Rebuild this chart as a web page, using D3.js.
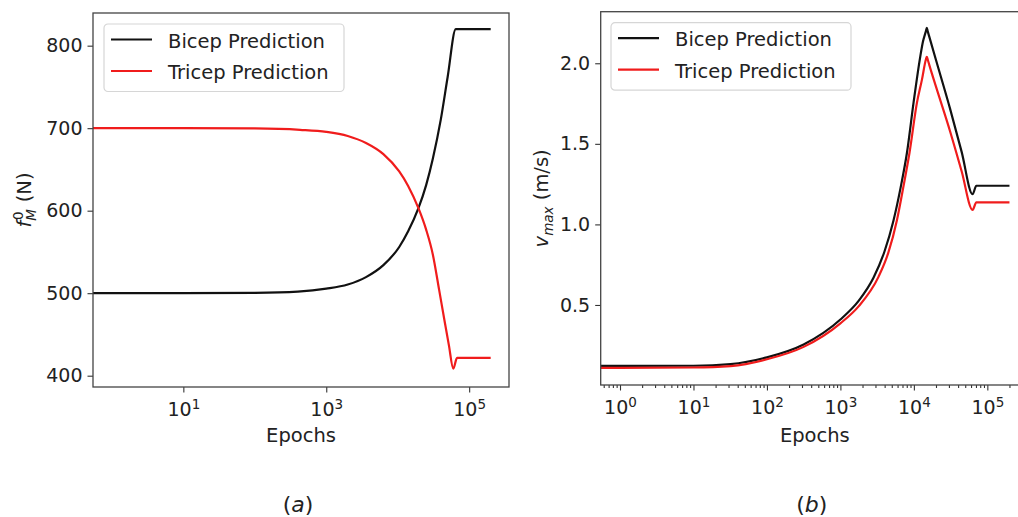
<!DOCTYPE html>
<html>
<head>
<meta charset="utf-8">
<script src="https://cdn.jsdelivr.net/npm/d3@7"></script>
<style>
  body { margin: 0; background: #fff; }
  svg text { font-family: "DejaVu Sans", sans-serif; fill: #222; }
</style>
</head>
<body>
<svg id="chart" width="1018" height="517"></svg>
<script>
// Panel (a): optimal muscle force f_M^0 (N) against epochs
const forceBicepEpochs = [0, 1, 10, 100, 400, 1000, 2000, 3600, 6300, 10500, 14000, 19500, 25000, 31000, 40000, 50000, 65000, 200000];
const forceBicep = [500, 500, 500, 500.5, 502, 505.5, 510.5, 519.5, 534, 556, 575, 603, 631, 663, 710, 762, 820, 820];
const forceTricepEpochs = [0, 1, 10, 100, 430, 1000, 2000, 3600, 6300, 10500, 14000, 19500, 25000, 31000, 38000, 44700, 52000, 60000, 67600, 200000];
const forceTricep = [700, 700, 700, 699.7, 698, 695.5, 690.5, 682, 668.5, 647.5, 630, 603, 577, 547, 504, 469, 437, 408.5, 421.5, 421.5];

// Panel (b): max contraction velocity v_max (m/s) against epochs
const velBicepEpochs = [0, 1, 10, 32, 100, 316, 1000, 1780, 2820, 3980, 5250, 6610, 8040, 9890, 12200, 13300, 14600, 15000, 15400, 16200, 20000, 31000, 44700, 63000, 70800, 200000];
const velBicep = [0.122, 0.122, 0.123, 0.133, 0.175, 0.255, 0.41, 0.527, 0.669, 0.832, 1.02, 1.23, 1.443, 1.754, 2.04, 2.135, 2.2, 2.22, 2.2, 2.165, 2.02, 1.72, 1.45, 1.187, 1.24, 1.24];
const velTricepEpochs = [0, 1, 10, 32, 100, 316, 1000, 1780, 3310, 4470, 5890, 7240, 8710, 11000, 12900, 14600, 15000, 15400, 16200, 20000, 31000, 44700, 63000, 70800, 200000];
const velTricep = [0.11, 0.11, 0.112, 0.121, 0.163, 0.24, 0.386, 0.493, 0.676, 0.822, 1.028, 1.24, 1.443, 1.754, 1.9, 2.025, 2.04, 2.025, 1.99, 1.855, 1.58, 1.33, 1.09, 1.137, 1.137];

// tick labels
const forceTicks = [400, 500, 600, 700, 800];
const velTicks = [0.5, 1.0, 1.5, 2.0];
const forceEpochTicks = [1e1, 1e3, 1e5];
const velEpochTicks = [1e0, 1e1, 1e2, 1e3, 1e4, 1e5];
const seriesNames = ["Bicep Prediction", "Tricep Prediction"];
const seriesColors = ["#111", "#f01c1c"];

const svg = d3.select("#chart");

drawPanel({
  id: "a",
  x: d3.scaleLog().domain([0.544, 3.61e5]).range([93, 509]),
  y: d3.scaleLinear().domain([386.3, 839.6]).range([387, 13]),
  yTicks: forceTicks,
  yFormat: d3.format("d"),
  xTicks: forceEpochTicks,
  minor: false,
  series: [
    {epochs: forceBicepEpochs, values: forceBicep},
    {epochs: forceTricepEpochs, values: forceTricep}
  ],
  legend: {x: 104, y: 24},
  yLabel: {x: 31, base: "f", sub: "M", sup: "0", unit: " (N)"},
  title: "a"
});

drawPanel({
  id: "b",
  x: d3.scaleLog().domain([0.546, 3.69e5]).range([600.7, 1029]),
  y: d3.scaleLinear().domain([0.0034, 2.32]).range([385, 11.7]),
  yTicks: velTicks,
  yFormat: d3.format(".1f"),
  xTicks: velEpochTicks,
  minor: true,
  series: [
    {epochs: velBicepEpochs, values: velBicep},
    {epochs: velTricepEpochs, values: velTricep}
  ],
  legend: {x: 611, y: 22.7},
  yLabel: {x: 548, base: "v", sub: "max", sup: null, unit: " (m/s)"},
  title: "b"
});

function drawPanel(p) {
  const x = p.x, y = p.y;
  const [x0, x1] = x.range();
  const [y1, y0] = y.range();
  const g = svg.append("g");

  // clip the lines to the plot area (epoch 0 runs off the left edge like matplotlib)
  g.append("clipPath").attr("id", "clip-" + p.id)
    .append("rect")
    .attr("x", x0).attr("y", y0)
    .attr("width", x1 - x0).attr("height", y1 - y0);

  const line = d3.line()
    .x(d => x(Math.max(d[0], 0.1)))
    .y(d => y(d[1]))
    .curve(d3.curveMonotoneX);

  g.append("g").attr("clip-path", "url(#clip-" + p.id + ")")
    .selectAll("path")
    .data(p.series)
    .enter().append("path")
    .attr("d", s => line(s.epochs.map((e, i) => [e, s.values[i]])))
    .attr("fill", "none")
    .attr("stroke", (s, i) => seriesColors[i])
    .attr("stroke-width", 2.2)
    .attr("stroke-linejoin", "round");

  // y axis
  const yAxis = g.append("g")
    .attr("transform", "translate(" + x0 + ",0)")
    .call(d3.axisLeft(y).tickValues(p.yTicks).tickFormat(p.yFormat).tickSize(5.5).tickPadding(5));
  yAxis.selectAll("text").attr("font-size", 19).attr("font-family", "DejaVu Sans");

  // x axis, major ticks with 10^n labels
  const xAxis = g.append("g")
    .attr("transform", "translate(0," + y1 + ")")
    .call(d3.axisBottom(x).tickValues(p.xTicks).tickFormat("").tickSize(5.5));
  xAxis.selectAll(".tick").append("text")
    .attr("y", 29)
    .attr("text-anchor", "middle")
    .attr("font-size", 19)
    .attr("fill", "#222")
    .each(function(d) {
      const t = d3.select(this);
      t.append("tspan").text("10");
      t.append("tspan").attr("dy", "-0.5em").attr("font-size", 13.5).text(Math.round(Math.log10(d)));
    });

  if (p.minor) {
    const [d0, d1] = x.domain();
    const minorTicks = [];
    for (let k = -1; k <= 6; k++) {
      for (let m = 2; m <= 9; m++) {
        const v = m * Math.pow(10, k);
        if (v > d0 && v < d1) minorTicks.push(v);
      }
    }
    g.append("g")
      .attr("transform", "translate(0," + y1 + ")")
      .call(d3.axisBottom(x).tickValues(minorTicks).tickFormat("").tickSize(3))
      .select(".domain").remove();
  }

  g.selectAll(".domain").remove();
  g.selectAll(".tick line").attr("stroke", "#333").attr("stroke-width", 1.1);

  // frame
  g.append("rect")
    .attr("x", x0).attr("y", y0)
    .attr("width", x1 - x0).attr("height", y1 - y0)
    .attr("fill", "none")
    .attr("stroke", "#444")
    .attr("stroke-width", 1.3);

  // axis labels
  g.append("text")
    .attr("x", (x0 + x1) / 2).attr("y", 442)
    .attr("text-anchor", "middle")
    .attr("font-size", 19.5)
    .text("Epochs");

  const yl = g.append("text")
    .attr("transform", "translate(" + p.yLabel.x + "," + ((y0 + y1) / 2) + ") rotate(-90)")
    .attr("text-anchor", "middle")
    .attr("font-size", 19.5);
  yl.append("tspan").attr("font-style", "italic").text(p.yLabel.base);
  yl.append("tspan").attr("font-style", "italic").attr("font-size", 13.5).attr("dy", 5).text(p.yLabel.sub);
  if (p.yLabel.sup) {
    yl.append("tspan").attr("font-size", 13.5).attr("dx", -11).attr("dy", -13).text(p.yLabel.sup);
    yl.append("tspan").attr("dx", 3).attr("dy", 8).text(p.yLabel.unit);
  } else {
    yl.append("tspan").attr("dy", -5).text(p.yLabel.unit);
  }

  // legend
  const lg = g.append("g").attr("transform", "translate(" + p.legend.x + "," + p.legend.y + ")");
  lg.append("rect")
    .attr("width", 240).attr("height", 67.5)
    .attr("rx", 4)
    .attr("fill", "#fff").attr("fill-opacity", 0.85)
    .attr("stroke", "#d6d6d6").attr("stroke-width", 1.2);
  const rows = lg.selectAll(".row")
    .data(seriesNames)
    .enter().append("g")
    .attr("class", "row")
    .attr("transform", (d, i) => "translate(0," + (15.5 + i * 31.5) + ")");
  rows.append("line")
    .attr("x1", 7).attr("x2", 48)
    .attr("stroke", (d, i) => seriesColors[i])
    .attr("stroke-width", 2.2);
  rows.append("text")
    .attr("x", 64).attr("y", 1)
    .attr("dy", "0.36em")
    .attr("font-size", 19.5)
    .text(d => d);

  // panel caption
  const cap = svg.append("text")
    .attr("x", (x0 + (p.id === "a" ? x1 : 1029)) / 2 - 3)
    .attr("y", 512)
    .attr("text-anchor", "middle")
    .attr("font-family", "Liberation Sans, Arial, sans-serif")
    .attr("font-size", 22)
    .attr("fill", "#222");
  cap.append("tspan").text("(");
  cap.append("tspan").attr("font-style", "italic").text(p.title);
  cap.append("tspan").text(")");
}
</script>
</body>
</html>
